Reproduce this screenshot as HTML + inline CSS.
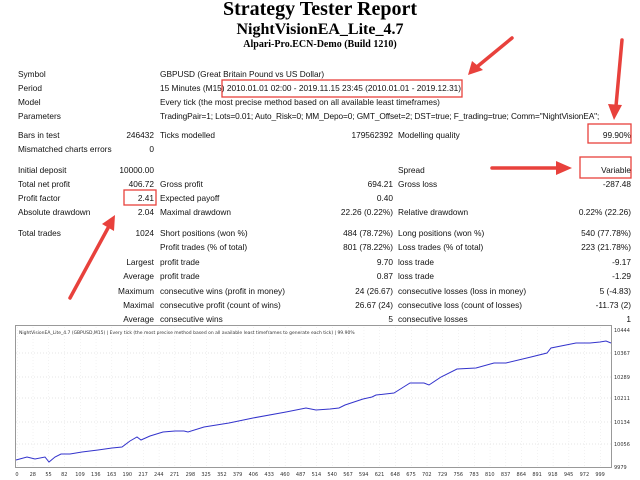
<!DOCTYPE html>
<html><head><style>
body{margin:0;width:640px;height:480px;background:#fff;overflow:hidden;position:relative;font-family:"Liberation Sans","DejaVu Sans",sans-serif;}
.t{position:absolute;font-size:8.3px;color:#111;white-space:nowrap;line-height:10px;}
.r{text-align:right;}
h1,h2,h3{position:absolute;left:0;width:640px;text-align:center;margin:0;font-family:"Liberation Serif",serif;font-weight:bold;color:#000;}
</style></head><body>
<h1 style="top:-2px;font-size:20px;">Strategy Tester Report</h1>
<h2 style="top:21px;font-size:16px;">NightVisionEA_Lite_4.7</h2>
<h3 style="top:39px;font-size:10px;">Alpari-Pro.ECN-Demo (Build 1210)</h3>

<div class="t" style="left:18px;top:69px">Symbol</div><div class="t" style="left:160px;top:69px">GBPUSD (Great Britain Pound vs US Dollar)</div>
<div class="t" style="left:18px;top:83px">Period</div><div class="t" style="left:160px;top:83px">15 Minutes (M15) 2010.01.01 02:00 - 2019.11.15 23:45 (2010.01.01 - 2019.12.31)</div>
<div class="t" style="left:18px;top:97px">Model</div><div class="t" style="left:160px;top:97px">Every tick (the most precise method based on all available least timeframes)</div>
<div class="t" style="left:18px;top:111px">Parameters</div><div class="t" style="left:160px;top:111px;letter-spacing:-0.1px">TradingPair=1; Lots=0.01; Auto_Risk=0; MM_Depo=0; GMT_Offset=2; DST=true; F_trading=true; Comm="NightVisionEA";</div>

<div class="t" style="left:18px;top:130px">Bars in test</div><div class="t r" style="right:486px;top:130px">246432</div><div class="t" style="left:160px;top:130px">Ticks modelled</div><div class="t r" style="right:247px;top:130px">179562392</div><div class="t" style="left:398px;top:130px">Modelling quality</div><div class="t r" style="right:9px;top:130px">99.90%</div>
<div class="t" style="left:18px;top:144px">Mismatched charts errors</div><div class="t r" style="right:486px;top:144px">0</div>

<div class="t" style="left:18px;top:165px">Initial deposit</div><div class="t r" style="right:486px;top:165px">10000.00</div><div class="t" style="left:398px;top:165px">Spread</div><div class="t r" style="right:9px;top:165px">Variable</div>
<div class="t" style="left:18px;top:179px">Total net profit</div><div class="t r" style="right:486px;top:179px">406.72</div><div class="t" style="left:160px;top:179px">Gross profit</div><div class="t r" style="right:247px;top:179px">694.21</div><div class="t" style="left:398px;top:179px">Gross loss</div><div class="t r" style="right:9px;top:179px">-287.48</div>
<div class="t" style="left:18px;top:193px">Profit factor</div><div class="t r" style="right:486px;top:193px">2.41</div><div class="t" style="left:160px;top:193px">Expected payoff</div><div class="t r" style="right:247px;top:193px">0.40</div>
<div class="t" style="left:18px;top:207px">Absolute drawdown</div><div class="t r" style="right:486px;top:207px">2.04</div><div class="t" style="left:160px;top:207px">Maximal drawdown</div><div class="t r" style="right:247px;top:207px">22.26 (0.22%)</div><div class="t" style="left:398px;top:207px">Relative drawdown</div><div class="t r" style="right:9px;top:207px">0.22% (22.26)</div>

<div class="t" style="left:18px;top:228px">Total trades</div><div class="t r" style="right:486px;top:228px">1024</div><div class="t" style="left:160px;top:228px">Short positions (won %)</div><div class="t r" style="right:247px;top:228px">484 (78.72%)</div><div class="t" style="left:398px;top:228px">Long positions (won %)</div><div class="t r" style="right:9px;top:228px">540 (77.78%)</div>
<div class="t" style="left:160px;top:242px">Profit trades (% of total)</div><div class="t r" style="right:247px;top:242px">801 (78.22%)</div><div class="t" style="left:398px;top:242px">Loss trades (% of total)</div><div class="t r" style="right:9px;top:242px">223 (21.78%)</div>
<div class="t r" style="right:486px;top:257px">Largest</div><div class="t" style="left:160px;top:257px">profit trade</div><div class="t r" style="right:247px;top:257px">9.70</div><div class="t" style="left:398px;top:257px">loss trade</div><div class="t r" style="right:9px;top:257px">-9.17</div>
<div class="t r" style="right:486px;top:271px">Average</div><div class="t" style="left:160px;top:271px">profit trade</div><div class="t r" style="right:247px;top:271px">0.87</div><div class="t" style="left:398px;top:271px">loss trade</div><div class="t r" style="right:9px;top:271px">-1.29</div>
<div class="t r" style="right:486px;top:286px">Maximum</div><div class="t" style="left:160px;top:286px">consecutive wins (profit in money)</div><div class="t r" style="right:247px;top:286px">24 (26.67)</div><div class="t" style="left:398px;top:286px">consecutive losses (loss in money)</div><div class="t r" style="right:9px;top:286px">5 (-4.83)</div>
<div class="t r" style="right:486px;top:300px">Maximal</div><div class="t" style="left:160px;top:300px">consecutive profit (count of wins)</div><div class="t r" style="right:247px;top:300px">26.67 (24)</div><div class="t" style="left:398px;top:300px">consecutive loss (count of losses)</div><div class="t r" style="right:9px;top:300px">-11.73 (2)</div>
<div class="t r" style="right:486px;top:314px">Average</div><div class="t" style="left:160px;top:314px">consecutive wins</div><div class="t r" style="right:247px;top:314px">5</div><div class="t" style="left:398px;top:314px">consecutive losses</div><div class="t r" style="right:9px;top:314px">1</div>

<svg width="640" height="480" style="position:absolute;left:0;top:0" font-family="DejaVu Sans, sans-serif">
<defs>
<pattern id="g" x="17" y="0" width="15.76" height="480" patternUnits="userSpaceOnUse"><line x1="0" y1="0" x2="0" y2="480" stroke="#e6e6e6" stroke-dasharray="1,2"/></pattern>
</defs>
<rect x="16" y="326" width="595" height="141" fill="url(#g)"/>
<g stroke="#e6e6e6" stroke-dasharray="1,2">
<line x1="16" x2="611" y1="353" y2="353"/><line x1="16" x2="611" y1="377" y2="377"/><line x1="16" x2="611" y1="398" y2="398"/><line x1="16" x2="611" y1="422" y2="422"/><line x1="16" x2="611" y1="444" y2="444"/>
</g>
<rect x="15.5" y="325.5" width="596" height="142" fill="none" stroke="#999"/>
<text x="19" y="334" font-size="4.5" fill="#333">NightVisionEA_Lite_4.7 (GBPUSD,M15) | Every tick (the most precise method based on all available least timeframes to generate each tick) | 99.90%</text>
<g font-size="5" fill="#333">
<text x="614" y="332">10444</text><text x="614" y="355">10367</text><text x="614" y="379">10289</text><text x="614" y="400">10211</text><text x="614" y="424">10134</text><text x="614" y="446">10056</text><text x="614" y="469">9979</text>
</g>
<polyline fill="none" stroke="#3333cc" stroke-width="1" points="16,460 27,457 35,459 45,457 49,462 55,457 61,454 70,454 82,452 98,450 112,448 122,447 130,441 137,437 141,440 150,436 163,432 175,431 184,431 188,432 204,427 229,423 253,418 286,412 306,408 316,410 330,409 339,408 345,405 363,399 372,397 376,395 394,393 402,388 410,383 424,383 429,385 441,377 457,369 476,368 494,363 506,363 531,357 547,353 551,348 576,343 590,343 600,342 606,341 611,343"/>
<g font-size="5" fill="#333" text-anchor="middle" id="xl"></g>
<g stroke="#e8413c" fill="none" stroke-width="1.3">
<rect x="222" y="80" width="240" height="17"/>
<rect x="588" y="124" width="43" height="19"/>
<rect x="580" y="157" width="51" height="21"/>
<rect x="124" y="190" width="32" height="15"/>
</g>
<g stroke="#e8413c" stroke-width="3.5" stroke-linecap="round" fill="#e8413c">
<line x1="512" y1="38" x2="478" y2="66"/><polygon stroke="none" points="468,75 472,61 483,70"/>
<line x1="622" y1="40" x2="616" y2="106"/><polygon stroke="none" points="614,120 608,104 622,105"/>
<line x1="492" y1="168" x2="556" y2="168"/><polygon stroke="none" points="572,168 556,161 556,175"/>
<line x1="70" y1="298" x2="108" y2="228"/><polygon stroke="none" points="115,215 102,224 114,231"/>
</g>
</svg>
<script>
var lb=[0,28,55,82,109,136,163,190,217,244,271,298,325,352,379,406,433,460,487,514,540,567,594,621,648,675,702,729,756,783,810,837,864,891,918,945,972,999];
var g=document.getElementById('xl'),s='';
lb.forEach(function(v,i){s+='<text x="'+(17+i*15.76).toFixed(1)+'" y="476">'+v+'</text>';});
g.innerHTML=s;
</script>
</body></html>
